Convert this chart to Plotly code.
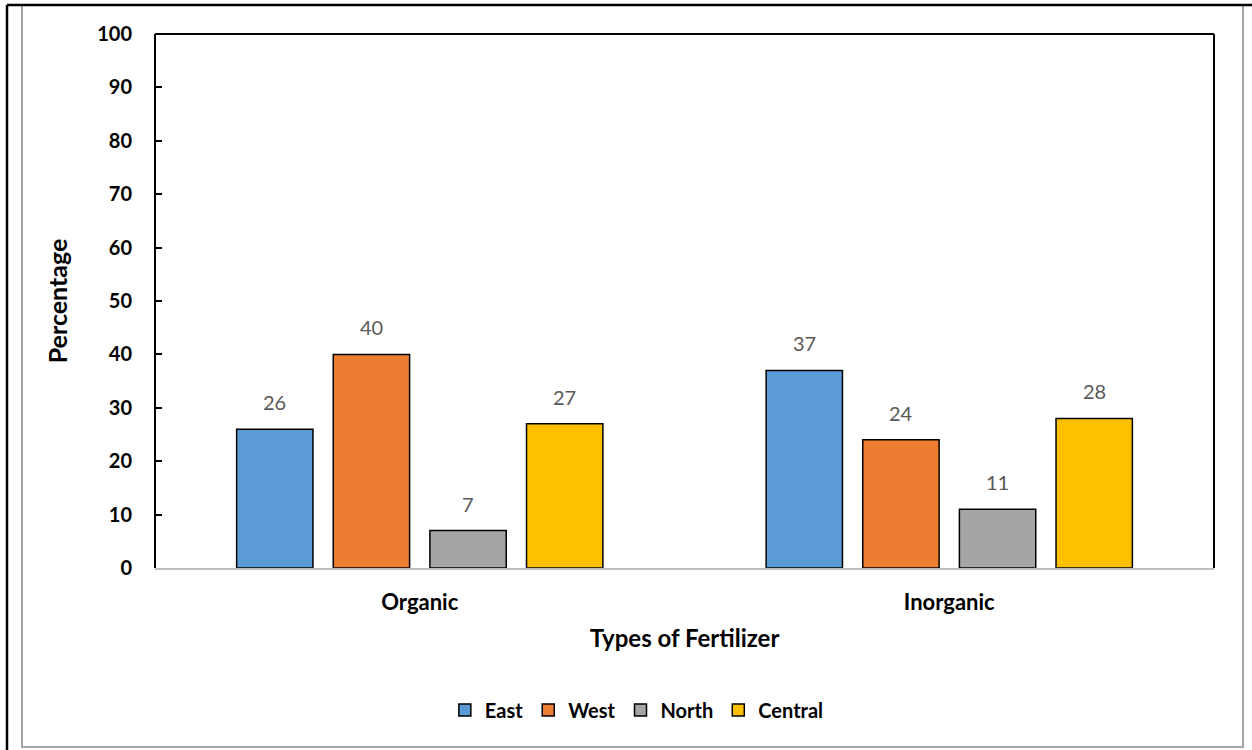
import plotly.graph_objects as go

categories = ["Organic", "Inorganic"]
east = [26, 37]
west = [40, 24]
north = [7, 11]
central = [27, 28]
series_names = ["East", "West", "North", "Central"]
series_colors = ["#5B9BD5", "#ED7D31", "#A5A5A5", "#FFC000"]
y_ticks = [0, 10, 20, 30, 40, 50, 60, 70, 80, 90, 100]

W, H = 1252, 750
L, R, T, B = 155, 38, 34, 182
FONT = "Lato, 'Open Sans', sans-serif"
BARGAP, GROUPGAP = 0.27, 0.21

all_series = [east, west, north, central]

fig = go.Figure()
for name, vals, col in zip(series_names, all_series, series_colors):
    fig.add_trace(go.Bar(
        name=name, x=categories, y=vals,
        marker=dict(color=col, line=dict(color="black", width=1.5)),
    ))

# pixel -> paper helpers for the decorative frame
pw, ph = W - L - R, H - T - B
def px(x):
    return (x - L) / pw
def py(y):
    return (H - B - y) / ph

# value labels above each bar, offset to the bar's slot within its group
cat_px = pw / len(categories)
slot_px = cat_px * (1 - BARGAP) / len(all_series)
annotations = []
for i, vals in enumerate(all_series):
    shift = (i - (len(all_series) - 1) / 2) * slot_px
    for cat, v in zip(categories, vals):
        annotations.append(dict(
            x=cat, y=v, xref="x", yref="y", text=str(v), showarrow=False,
            xshift=shift, yshift=13, yanchor="bottom",
            font=dict(family=FONT, size=20, color="#595959"),
        ))

shapes = [
    # plot area border (top, left, right)
    dict(type="line", xref="paper", yref="paper", x0=0, x1=1, y0=1, y1=1, line=dict(color="black", width=2)),
    dict(type="line", xref="paper", yref="paper", x0=0, x1=0, y0=0, y1=1, line=dict(color="black", width=2)),
    dict(type="line", xref="paper", yref="paper", x0=1, x1=1, y0=0, y1=1, line=dict(color="black", width=2)),
    # outer chart frame
    dict(type="rect", xref="paper", yref="paper", x0=px(22), x1=px(1243), y0=py(747), y1=py(5),
         line=dict(color="#A6A6A6", width=2), layer="below"),
    dict(type="line", xref="paper", yref="paper", x0=px(7), x1=px(1252), y0=py(5), y1=py(5),
         line=dict(color="black", width=2.5)),
    dict(type="line", xref="paper", yref="paper", x0=px(7), x1=px(7), y0=py(5), y1=py(752),
         line=dict(color="black", width=2.5)),
]

fig.update_layout(
    width=W, height=H,
    margin=dict(l=L, r=R, t=T, b=B),
    paper_bgcolor="white", plot_bgcolor="white",
    barmode="group", bargap=BARGAP, bargroupgap=GROUPGAP,
    font=dict(family=FONT, color="black"),
    shapes=shapes,
    annotations=annotations,
    showlegend=True,
    legend=dict(orientation="h", x=0.455, xanchor="center", y=py(710), yanchor="middle",
                font=dict(family=FONT, size=20, color="black", weight="bold"),
                itemwidth=30, traceorder="normal"),
    xaxis=dict(
        showline=True, linecolor="#BFBFBF", linewidth=2,
        tickfont=dict(family=FONT, size=22, color="black", weight="bold"),
        ticks="", ticklabelstandoff=14,
        title=dict(text="Types of Fertilizer", font=dict(family=FONT, size=24, color="black", weight="bold"),
                   standoff=16),
    ),
    yaxis=dict(
        range=[0, 100], tickvals=y_ticks, showgrid=False, zeroline=False,
        showline=False, ticks="inside", ticklen=7, tickcolor="black", tickwidth=1.5,
        tickfont=dict(family=FONT, size=20, color="black", weight="bold"),
        ticklabelstandoff=22,
        title=dict(text="Percentage", font=dict(family=FONT, size=25, color="black", weight="bold"),
                   standoff=22),
    ),
)

fig.write_html("out.html")
